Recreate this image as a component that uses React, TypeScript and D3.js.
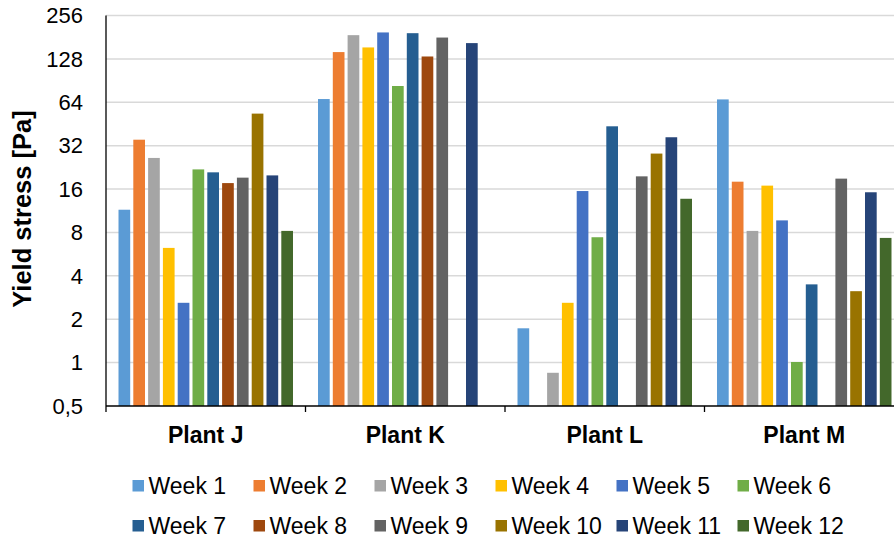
import React from "react";
import * as d3 from "d3";

const plants = ["Plant J", "Plant K", "Plant L", "Plant M"];
const weeks = ["Week 1", "Week 2", "Week 3", "Week 4", "Week 5", "Week 6", "Week 7", "Week 8", "Week 9", "Week 10", "Week 11", "Week 12"];
const colors = ["#5B9BD5", "#ED7D31", "#A5A5A5", "#FFC000", "#4472C4", "#70AD47", "#255E91", "#9E480E", "#636363", "#997300", "#264478", "#43682B"];

// values per plant, by week (null = no bar)
const plantJ = [11.5, 35.2, 26.3, 6.25, 2.6, 21.9, 20.9, 17.6, 19.2, 53.4, 19.9, 8.2];
const plantK = [67.4, 142.7, 187, 153.7, 195.3, 83, 193, 133, 180, null, 164.7, null];
const plantL = [1.73, null, 0.85, 2.6, 15.5, 7.41, 43.6, null, 19.6, 28.2, 36.6, 13.7];
const plantM = [67, 18, 8.2, 16.9, 9.7, 1.01, 3.49, null, 18.9, 3.13, 15.2, 7.33];
const seriesByPlant = [plantJ, plantK, plantL, plantM];

const yTicks = [0.5, 1, 2, 4, 8, 16, 32, 64, 128, 256];
const yTickLabels = ["0,5", "1", "2", "4", "8", "16", "32", "64", "128", "256"];

const W = 894;
const H = 542;
const left = 106;
const right = 904;
const top = 15.5;
const bottom = 406;
const font = "'Liberation Sans', Arial, sans-serif";

export default function App() {
  const y = d3.scaleLog().base(2).domain([0.5, 256]).range([bottom, top]);
  const x0 = d3.scaleBand<string>().domain(plants).range([left, right]).padding(0);
  const x1 = d3
    .scaleBand<string>()
    .domain(weeks)
    .range([0, x0.bandwidth()])
    .paddingInner(0.21)
    .paddingOuter(0.845);

  return (
    <svg
      width={W}
      height={H}
      style={{ position: "absolute", left: 0, top: 0, background: "#fff" }}
      fontFamily={font}
    >
      {/* gridlines */}
      {yTicks.slice(1).map((t) => (
        <line key={t} x1={left} x2={W} y1={y(t)} y2={y(t)} stroke="#D9D9D9" strokeWidth={1.5} />
      ))}
      {/* bars */}
      {plants.map((p, pi) => (
        <g key={p} transform={`translate(${x0(p)},0)`}>
          {seriesByPlant[pi].map((v, wi) =>
            v == null ? null : (
              <rect
                key={wi}
                x={x1(weeks[wi])}
                y={y(v)}
                width={x1.bandwidth()}
                height={y(0.5) - y(v)}
                fill={colors[wi]}
              />
            )
          )}
        </g>
      ))}
      {/* axes */}
      <line x1={left} x2={left} y1={top} y2={bottom} stroke="#000" strokeWidth={1.3} />
      <line x1={left} x2={W} y1={bottom} y2={bottom} stroke="#000" strokeWidth={1.5} />
      {plants.map((p) => (
        <line key={p} x1={x0(p)! + x0.bandwidth()} x2={x0(p)! + x0.bandwidth()} y1={bottom} y2={bottom + 6} stroke="#000" strokeWidth={1.3} />
      ))}
      <line x1={left} x2={left} y1={bottom} y2={bottom + 6} stroke="#000" strokeWidth={1.3} />
      {/* y tick labels */}
      {yTicks.map((t, i) => (
        <text key={t} x={83} y={y(t)} dy="0.35em" textAnchor="end" fontSize={22} fill="#000">
          {yTickLabels[i]}
        </text>
      ))}
      {/* y axis title */}
      <text
        transform={`translate(31,209) rotate(-90)`}
        textAnchor="middle"
        fontSize={25.5}
        fontWeight="bold"
        fill="#000"
      >
        Yield stress [Pa]
      </text>
      {/* category labels */}
      {plants.map((p) => (
        <text key={p} x={x0(p)! + x0.bandwidth() / 2} y={443} textAnchor="middle" fontSize={23} fontWeight="bold" fill="#000">
          {p}
        </text>
      ))}
      {/* legend */}
      {weeks.map((w, i) => {
        const col = i % 6;
        const row = Math.floor(i / 6);
        const tx = 148.5 + col * 121;
        const cy = 486 + row * 40;
        return (
          <g key={w}>
            <rect x={tx - 16} y={cy - 6} width={11.5} height={11.5} fill={colors[i]} />
            <text x={tx} y={cy} dy="0.35em" fontSize={23} fill="#000">
              {w}
            </text>
          </g>
        );
      })}
    </svg>
  );
}
